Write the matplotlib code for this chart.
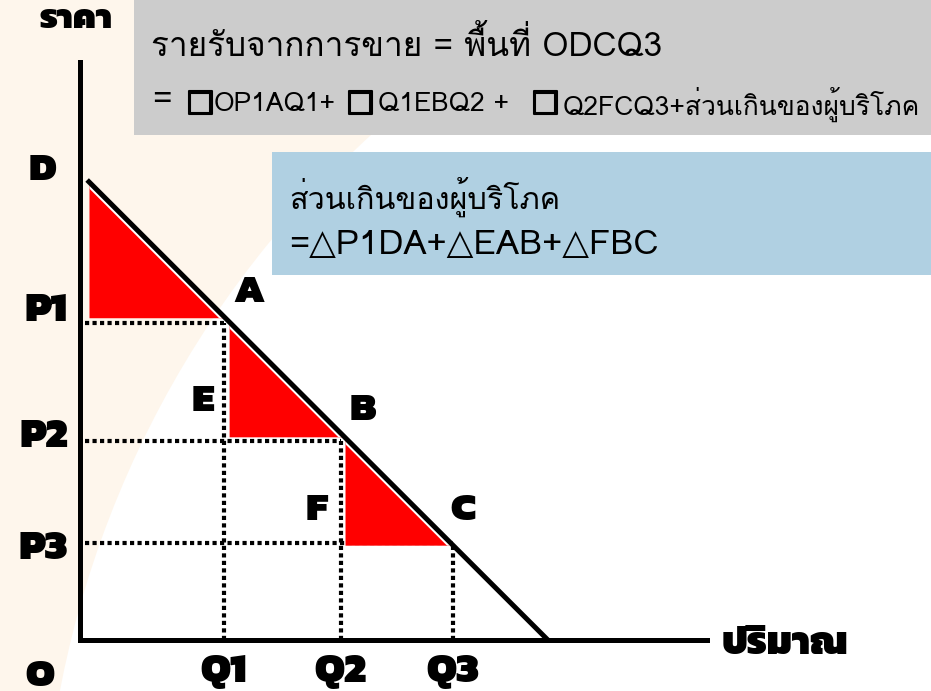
import matplotlib
matplotlib.use("Agg")
import matplotlib.pyplot as plt
import matplotlib.patheffects as pe
from matplotlib.patches import Circle, Rectangle, Polygon

# values (quantity / price units)
q_ticks = [3.03, 5.49, 7.85]
q_labels = ['Q1', 'Q2', 'Q3']
p_ticks = [6.79, 4.26, 2.08]
p_labels = ['P1', 'P2', 'P3']
demand_q = [0.15, 9.85]
demand_p = [9.85, 0.0]

revenue_line1 = 'รายรับจากการขาย = พื้นที่ ODCQ3'
revenue_parts = ['=', '□', 'OP1AQ1+', '□', 'Q1EBQ2 +', '□', 'Q2FCQ3+ส่วนเกินของผู้บริโภค']
surplus_line1 = 'ส่วนเกินของผู้บริโภค'
surplus_line2 = '=△P1DA+△EAB+△FBC'

W, H = 931, 691
CREAM = '#FEF6EC'
LABEL_FONT = dict(family='Kanit', fontweight='black', color='black')
BOX_FONT = ['Loma', 'DejaVu Sans']

fig = plt.figure(figsize=(W / 100, H / 100), dpi=100)
fig.patch.set_facecolor(CREAM)


def fx(x):
    return x / W


def fy(y):
    return 1 - y / H


# white round backdrop (big circle cut by the frame)
fig.add_artist(Circle((10.5, -1.89), 10.08, transform=fig.dpi_scale_trans,
                      facecolor='white', edgecolor='none', zorder=-5))

# chart axes: origin at pixel (80, 640)
ax = fig.add_axes([fx(80), fy(640), (707 - 80) / W, (640 - 62) / H])
ax.set_xlim(0, (707 - 80) / 47.5)
ax.set_ylim(0, (640 - 62) / 46.7)
ax.patch.set_alpha(0)
for s in ['top', 'right']:
    ax.spines[s].set_visible(False)
for s in ['left', 'bottom']:
    ax.spines[s].set_linewidth(3.6)
    ax.spines[s].set_capstyle('projecting')


def p_at(q):
    k = (demand_p[1] - demand_p[0]) / (demand_q[1] - demand_q[0])
    return demand_p[0] + (q - demand_q[0]) * k


def q_at(p):
    k = (demand_q[1] - demand_q[0]) / (demand_p[1] - demand_p[0])
    return demand_q[0] + (p - demand_p[0]) * k


# dotted guides
dots = dict(color='black', lw=3.0, ls=(0, (1, 0.8)), dash_capstyle='butt', zorder=2)
for q, p in zip(q_ticks, p_ticks):
    ax.plot([0.1, q], [p, p], **dots)
    ax.plot([q, q], [0, p], **dots)

# consumer surplus triangles
lefts = [0.2, q_ticks[0] + 0.12, q_ticks[1] + 0.1]
bottoms = [p_ticks[0] + 0.1, p_ticks[1] + 0.08, p_ticks[2] - 0.06]
for xl, yb in zip(lefts, bottoms):
    tri = Polygon([(xl, yb), (xl, p_at(xl)), (q_at(yb), yb)], closed=True,
                  facecolor='#FF0000', edgecolor='none', zorder=3)
    ax.add_patch(tri)
    halo, = ax.plot(demand_q, demand_p, color='white', lw=6.5, zorder=4)
    halo.set_clip_path(tri)

# demand curve
ax.plot(demand_q, demand_p, color='black', lw=3.6, solid_capstyle='butt', zorder=5)

# quantity labels as ticks, price labels next to the axis
ax.set_xticks(q_ticks, q_labels)
ax.set_yticks([])
ax.tick_params(length=0, labelsize=30)
ax.tick_params(axis='x', pad=10)
for lab in ax.get_xticklabels():
    lab.set_fontfamily('Kanit')
    lab.set_fontweight('black')

p_label_dy = [12, 4, -6]
for p, name, dy in zip(p_ticks, p_labels, p_label_dy):
    ax.annotate(name, (0, p), xytext=(-12, dy), textcoords='offset pixels',
                ha='right', va='center', fontsize=30, annotation_clip=False,
                **LABEL_FONT)


def label(x, y, s, size=29, ha='center'):
    fig.text(fx(x), fy(y), s, ha=ha, va='center', fontsize=size, **LABEL_FONT)


label(76, 20, 'ราคา', size=25)
label(785, 645, 'ปริมาณ', size=28)
label(42, 170, 'D')
label(40, 676, 'O')
label(249, 292, 'A')
label(203, 402, 'E')
label(363, 410, 'B')
label(317, 511, 'F')
label(463, 511, 'C')

# grey box with revenue text
fig.add_artist(Rectangle((fx(134), fy(135)), 1 - fx(134), 135 / H,
                         transform=fig.transFigure, facecolor='#CCCCCC',
                         edgecolor='none', zorder=2))
fig.text(fx(151), fy(45), revenue_line1, ha='left', va='center',
         fontsize=24, family=BOX_FONT, zorder=3)
part_x = [152, 186, 214, 346, 378, 531, 563]
thick = [pe.withStroke(linewidth=1.5, foreground='black')]
for x, s in zip(part_x, revenue_parts):
    if s == '□':
        fig.text(fx(x), fy(102), s, ha='left', va='center', fontsize=22,
                 family='DejaVu Sans', path_effects=thick, zorder=3)
    elif s == '=':
        fig.text(fx(x), fy(101), s, ha='left', va='center', fontsize=24,
                 family=BOX_FONT, zorder=3)
    else:
        fig.text(fx(x), fy(104), s, ha='left', va='center', fontsize=19,
                 family=BOX_FONT, zorder=3)

# blue box with surplus text
fig.add_artist(Rectangle((fx(272), fy(275)), 1 - fx(272), (275 - 152) / H,
                         transform=fig.transFigure, facecolor='#B0D0E2',
                         edgecolor='none', zorder=2))
fig.text(fx(289), fy(197), surplus_line1, ha='left', va='center',
         fontsize=22, family=BOX_FONT, zorder=3)
fig.text(fx(289), fy(245), surplus_line2, ha='left', va='center',
         fontsize=25, family=BOX_FONT, zorder=3)

fig.savefig('out.png', dpi=100, facecolor=CREAM)
